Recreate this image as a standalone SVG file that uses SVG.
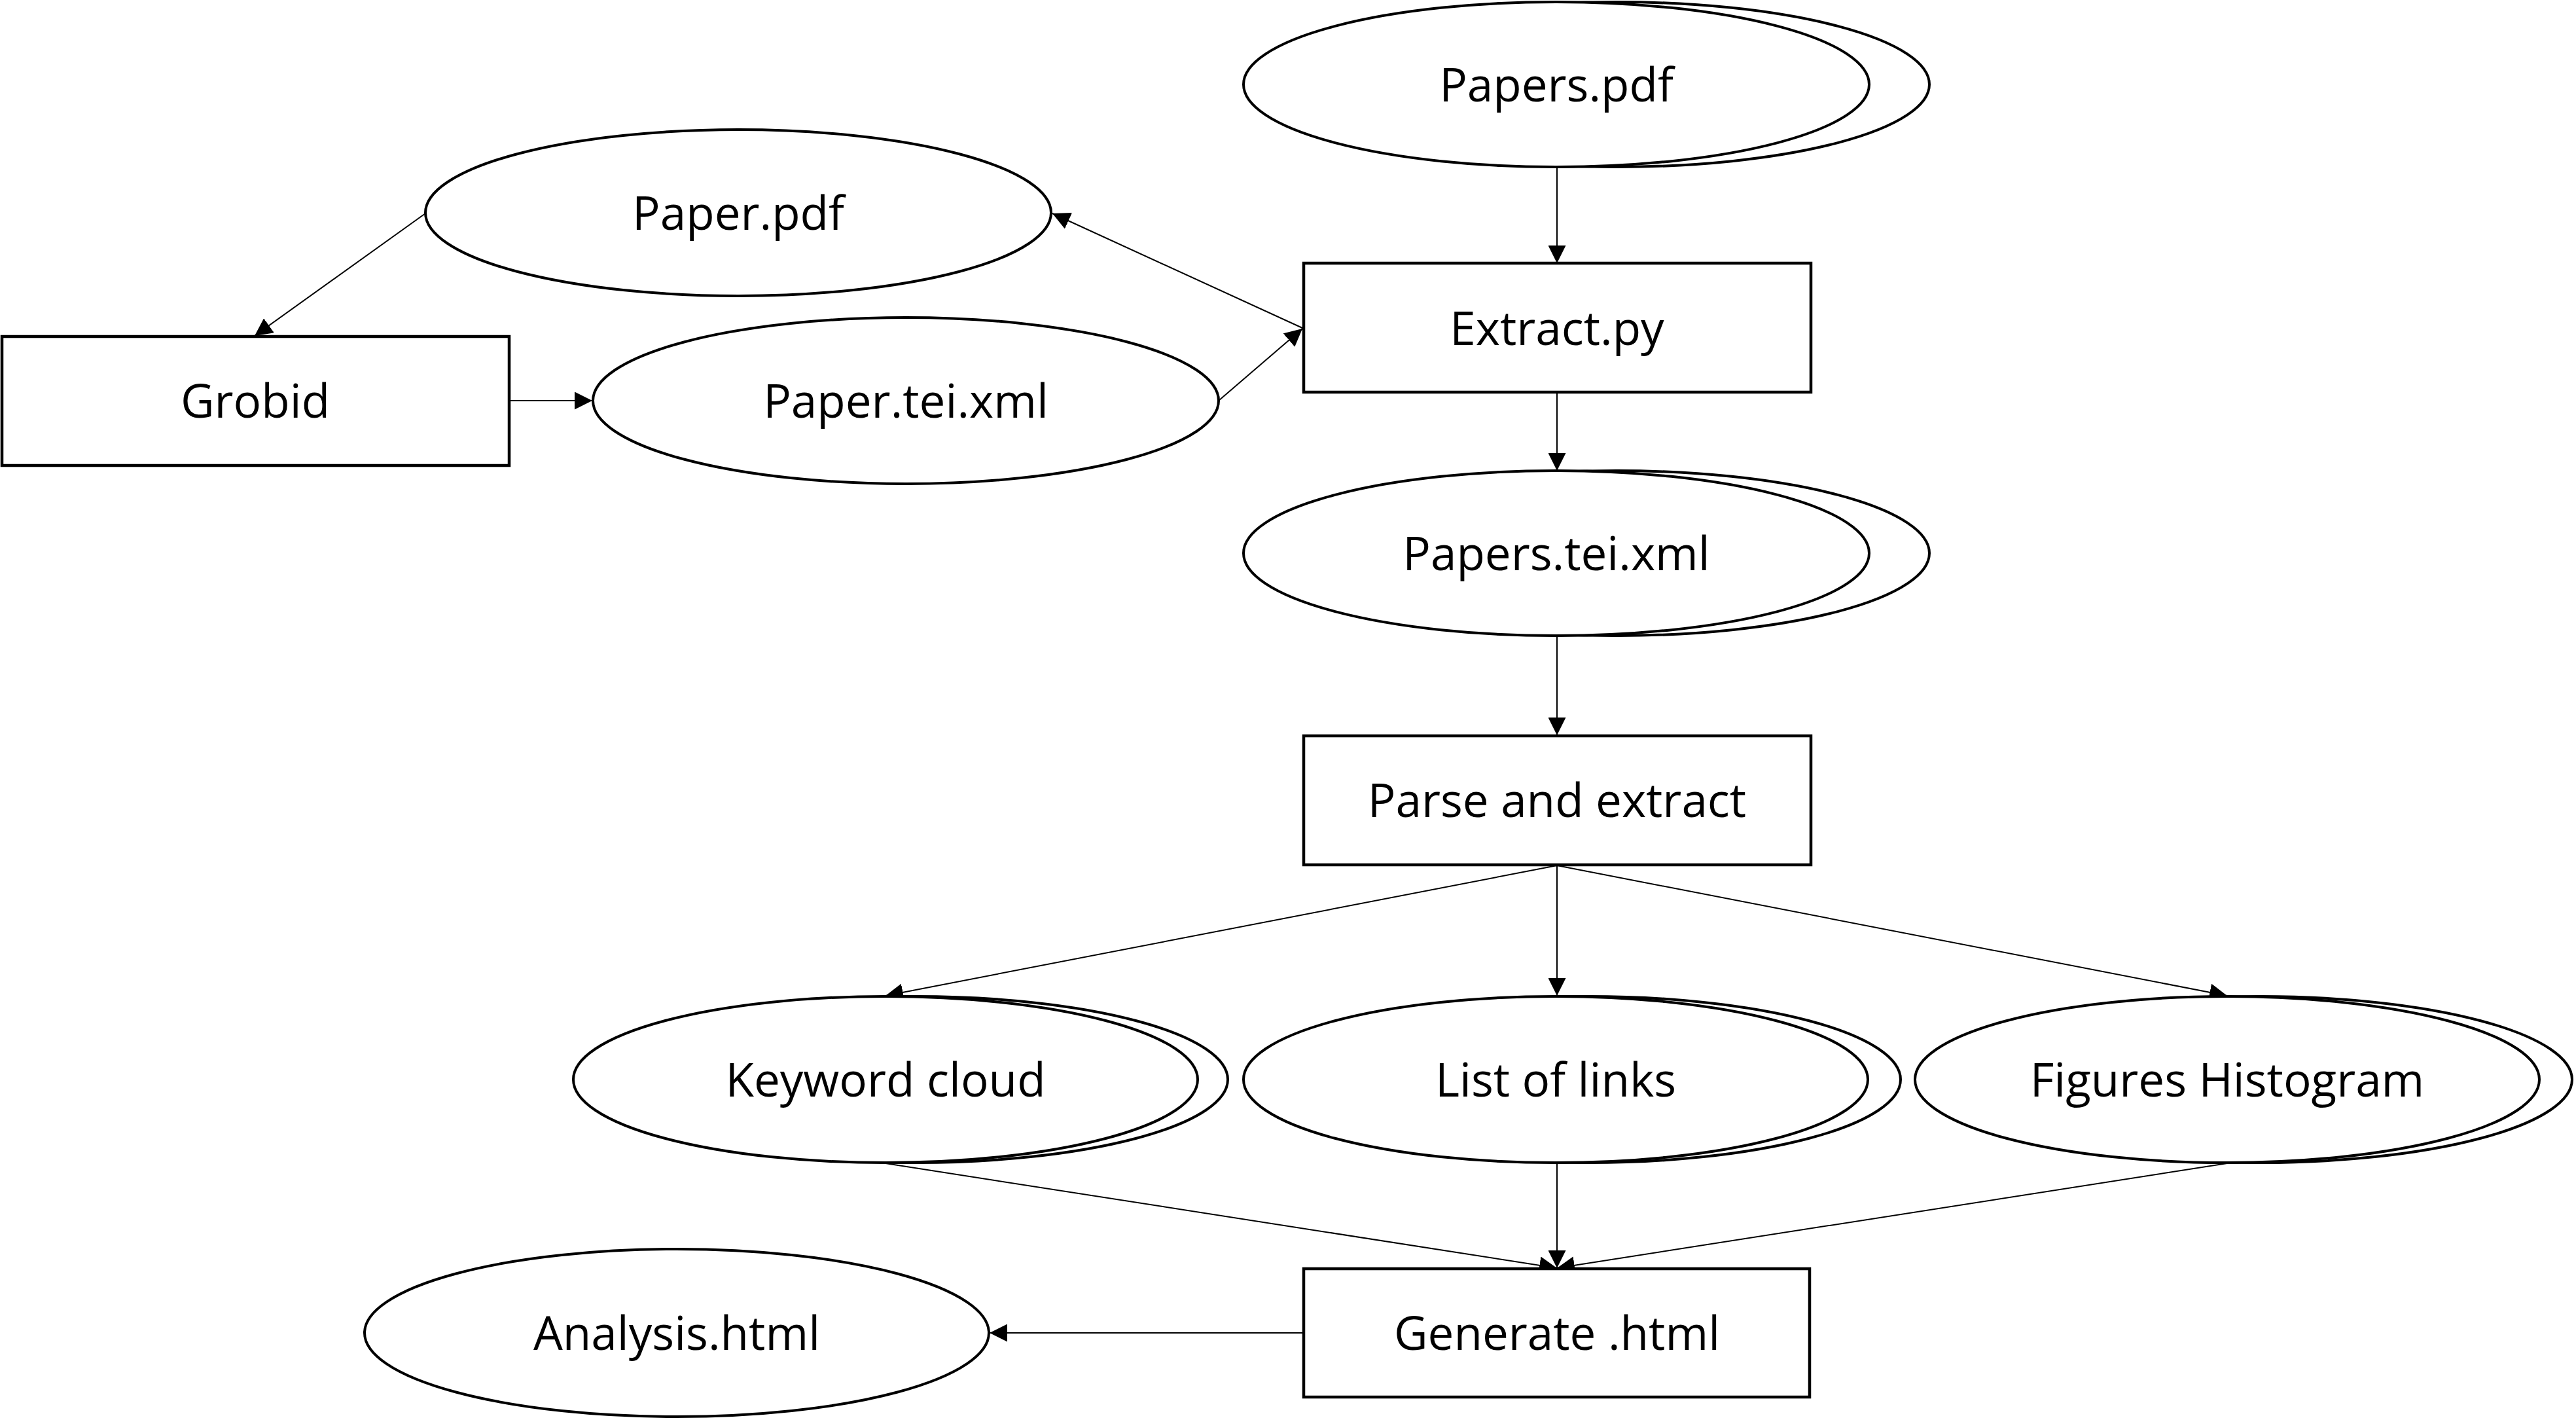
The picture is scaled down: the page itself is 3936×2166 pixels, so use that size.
<svg xmlns="http://www.w3.org/2000/svg" width="3936" height="2166" viewBox="0 0 3936 2166">
<defs>
<style>
.node ellipse, .node rect { fill: #ffffff; stroke: #000000; }
.node ellipse { stroke-width: 4; }
.node rect { stroke-width: 4.5; }
.node text { font-family: "Open Sans", "Liberation Sans", sans-serif; font-size: 71px; fill: #000000; text-anchor: middle; }
.edges line { stroke: #000000; stroke-width: 2; fill: none; marker-end: url(#arrow); }
</style>
<marker id="arrow" markerUnits="userSpaceOnUse" markerWidth="27" markerHeight="27" refX="27" refY="13.5" orient="auto">
<path d="M0,0 L27,13.5 L0,27 Z" fill="#000000"/>
</marker>
</defs>
<rect x="0" y="0" width="3936" height="2166" fill="#ffffff"/>

<g id="edges" class="edges">
<line x1="2379" y1="256" x2="2379" y2="402"/>
<line x1="2379" y1="600" x2="2379" y2="719"/>
<line x1="2379" y1="972" x2="2379" y2="1123"/>
<line x1="2379" y1="1322" x2="1353" y2="1521"/>
<line x1="2379" y1="1322" x2="2379" y2="1521"/>
<line x1="2379" y1="1322" x2="3403" y2="1521"/>
<line x1="1353" y1="1777" x2="2379" y2="1937"/>
<line x1="2379" y1="1777" x2="2379" y2="1937"/>
<line x1="3403" y1="1777" x2="2379" y2="1937"/>
<line x1="1990" y1="2036" x2="1512" y2="2036"/>
<line x1="1990" y1="501" x2="1608" y2="326"/>
<line x1="1862" y1="612" x2="1990" y2="502"/>
<line x1="779" y1="612" x2="905" y2="612"/>
<line x1="650" y1="326" x2="389" y2="513"/>
</g>

<g id="node-papers-pdf" class="node">
<ellipse cx="2470" cy="129" rx="478" ry="126"/>
<ellipse cx="2378" cy="129" rx="478" ry="126"/>
<text x="2378" y="155">Papers.pdf</text>
</g>

<g id="node-paper-pdf" class="node">
<ellipse cx="1128" cy="325" rx="478" ry="127"/>
<text x="1128" y="351">Paper.pdf</text>
</g>

<g id="node-extract" class="node">
<rect x="1992" y="402" width="775" height="197"/>
<text x="2379" y="527">Extract.py</text>
</g>

<g id="node-grobid" class="node">
<rect x="3" y="514" width="775" height="197"/>
<text x="390" y="638">Grobid</text>
</g>

<g id="node-paper-tei" class="node">
<ellipse cx="1384" cy="612" rx="478" ry="127"/>
<text x="1384" y="638">Paper.tei.xml</text>
</g>

<g id="node-papers-tei" class="node">
<ellipse cx="2470" cy="845" rx="478" ry="126"/>
<ellipse cx="2378" cy="845" rx="478" ry="126"/>
<text x="2378" y="871">Papers.tei.xml</text>
</g>

<g id="node-parse" class="node">
<rect x="1992" y="1124" width="775" height="197"/>
<text x="2379" y="1248">Parse and extract</text>
</g>

<g id="node-keyword" class="node">
<ellipse cx="1399" cy="1649" rx="477" ry="127"/>
<ellipse cx="1353" cy="1649" rx="477" ry="127"/>
<text x="1353" y="1675">Keyword cloud</text>
</g>

<g id="node-links" class="node">
<ellipse cx="2427" cy="1649" rx="477" ry="127"/>
<ellipse cx="2377" cy="1649" rx="477" ry="127"/>
<text x="2377" y="1675">List of links</text>
</g>

<g id="node-figures" class="node">
<ellipse cx="3453" cy="1649" rx="477" ry="127"/>
<ellipse cx="3403" cy="1649" rx="477" ry="127"/>
<text x="3403" y="1675">Figures Histogram</text>
</g>

<g id="node-generate" class="node">
<rect x="1992" y="1938" width="773" height="196"/>
<text x="2379" y="2062">Generate .html</text>
</g>

<g id="node-analysis" class="node">
<ellipse cx="1034" cy="2036" rx="477" ry="128"/>
<text x="1034" y="2062">Analysis.html</text>
</g>
</svg>
